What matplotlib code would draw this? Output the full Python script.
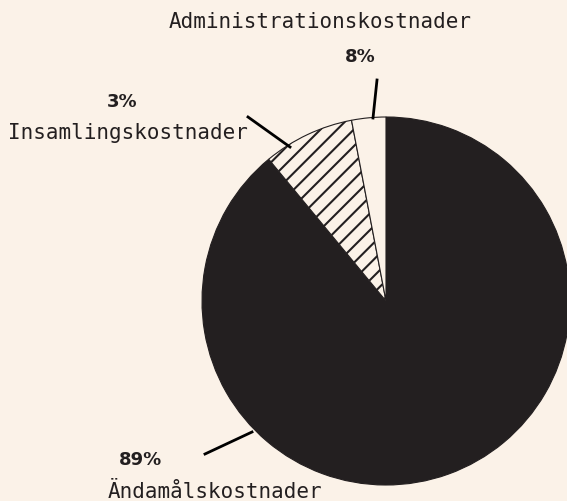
import matplotlib
matplotlib.use("Agg")
import matplotlib.pyplot as plt

# data as shown in the chart (clockwise from 12 o'clock)
shares = [89, 8, 3]
categories = ["Ändamålskostnader", "Insamlingskostnader", "Administrationskostnader"]
pct_labels = ["89%", "3%", "8%"]

bg = "#FBF2E8"
dark = "#231F20"

plt.rcParams["hatch.linewidth"] = 1.5

fig = plt.figure(figsize=(5.67, 5.01), dpi=100, facecolor=bg)
ax = fig.add_axes([0, 0, 1, 1])
ax.set_facecolor(bg)

cx, cy, r = 386, 501 - 301, 184
wedges, _ = ax.pie(shares, startangle=90, counterclock=False, center=(cx, cy),
                   radius=r, colors=[dark, bg, bg], frame=True,
                   wedgeprops=dict(edgecolor=dark, linewidth=0.8))
wedges[1].set_hatch("//")
ax.set_xlim(0, 567)
ax.set_ylim(0, 501)
ax.set_aspect("equal")
ax.axis("off")

mono = "DejaVu Sans Mono"

# leader lines
ax.plot([205, 252], [501 - 454, 501 - 432], color="black", lw=2)
ax.plot([248, 290], [501 - 117, 501 - 147], color="black", lw=2)
ax.plot([377, 373], [501 - 80, 501 - 118], color="black", lw=2)

# labels
ax.text(140, 501 - 460, pct_labels[0], ha="center", va="center",
        fontsize=13, fontweight="bold", color=dark)
ax.text(108, 501 - 492, categories[0], ha="left", va="center",
        fontsize=15, family=mono, color=dark)
ax.text(122, 501 - 102, pct_labels[1], ha="center", va="center",
        fontsize=13, fontweight="bold", color=dark)
ax.text(248, 501 - 133, categories[1], ha="right", va="center",
        fontsize=15, family=mono, color=dark)
ax.text(360, 501 - 57, pct_labels[2], ha="center", va="center",
        fontsize=13, fontweight="bold", color=dark)
ax.text(320, 501 - 22, categories[2], ha="center", va="center",
        fontsize=15, family=mono, color=dark)

fig.savefig("out.png", dpi=100, facecolor=bg)
